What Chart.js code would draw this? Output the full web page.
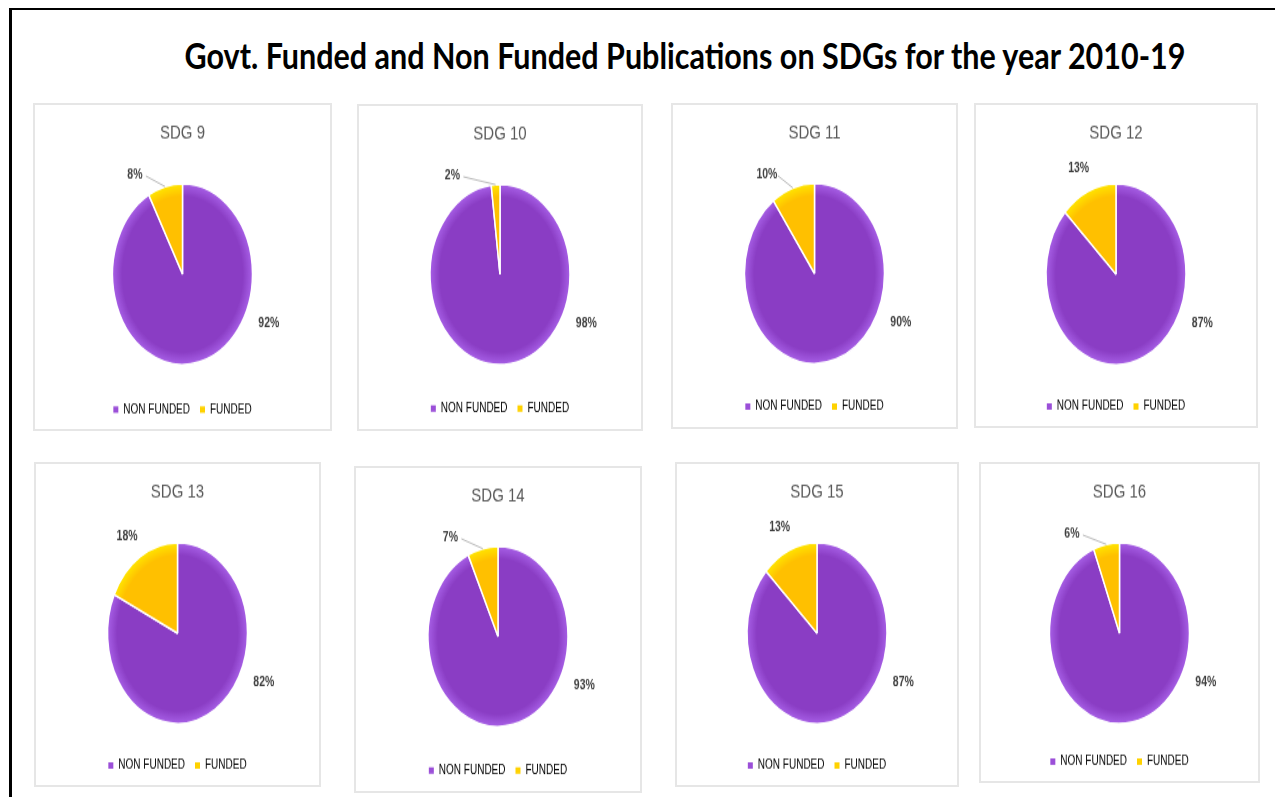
<!DOCTYPE html>
<html lang="en">
<head>
<meta charset="utf-8">
<title>Govt. Funded and Non Funded Publications on SDGs</title>
<script src="https://cdn.jsdelivr.net/npm/chart.js"></script>
<style>
    html, body { margin: 0; padding: 0; background: #fff; }
    #page { position: relative; width: 1275px; height: 797px; overflow: hidden; }
    .frame { position: absolute; left: 9px; top: 8px; width: 1300px; height: 820px; border-top: 2px solid #000; border-left: 3px solid #000; }
    .main-title { position: absolute; left: 0; width: 1370px; top: 37px; text-align: center; font: 700 30.5px/30.5px Lato, sans-serif; color: #000; white-space: nowrap; transform: scaleY(1.19); transform-origin: top center; }
    .panel { position: absolute; box-sizing: border-box; border: 2px solid #e6e6e6; background: #fff; overflow: hidden; }
    .stretch { position: absolute; left: 0; top: 0; width: 100%; transform-origin: top left; }
</style>
</head>
<body>
<div id="page">
    <div class="frame"></div>
    <div class="main-title">Govt. Funded and Non Funded Publications on SDGs for the year 2010-19</div>
</div>

<script>
    // data (percent of publications)
    const sdgNames = ['SDG 9', 'SDG 10', 'SDG 11', 'SDG 12', 'SDG 13', 'SDG 14', 'SDG 15', 'SDG 16'];
    const categories = ['NON FUNDED', 'FUNDED'];
    const nonFunded = [92, 98, 90, 87, 82, 93, 87, 94];
    const funded = [8, 2, 10, 13, 18, 7, 13, 6];

    // panel boxes on the page: left, top, width, height
    const panels = [
        [33, 103, 299, 328], [357, 104, 286, 327], [671, 103, 287, 326], [974, 103, 284, 325],
        [34, 462, 287, 325], [354, 466, 288, 327], [675, 462, 284, 325], [979, 462, 281, 321]
    ];

    const SY = 1.286;    // source picture is stretched vertically
    const R = 70;        // pie radius before the stretch
    const PIE_CY = 131;  // pie centre from panel top, before the stretch
    const FONT = '"Liberation Sans", Arial, sans-serif';

    const sliceBase = ['#8a3dc4', '#ffc000'];
    const sliceRim = ['#a75fe6', '#ffe600'];

    // soft lighter rim like the excel bevel
    function sliceFill(c) {
        const i = c.dataIndex;
        const area = c.chart.chartArea;
        if (!area) return sliceBase[i];
        const cx = (area.left + area.right) / 2, cy = (area.top + area.bottom) / 2;
        const g = c.chart.ctx.createRadialGradient(cx, cy, 0, cx, cy, R);
        g.addColorStop(0, sliceBase[i]);
        g.addColorStop(0.86, sliceBase[i]);
        g.addColorStop(1, sliceRim[i]);
        return g;
    }

    // percentage labels, outside end
    const pctLabels = {
        id: 'pctLabels',
        afterDatasetsDraw(chart) {
            const ctx = chart.ctx;
            const meta = chart.getDatasetMeta(0);
            const data = chart.data.datasets[0].data;
            const total = data.reduce((a, b) => a + b, 0);
            ctx.save();
            ctx.font = 'bold 10.5px ' + FONT;
            ctx.textAlign = 'center';
            ctx.textBaseline = 'middle';
            meta.data.forEach((arc, i) => {
                const pct = Math.round(data[i] / total * 100);
                const p = arc.getProps(['x', 'y', 'outerRadius', 'startAngle', 'endAngle'], true);
                const mid = (p.startAngle + p.endAngle) / 2;
                const r = p.outerRadius;
                let lx, ly;
                if (pct >= 50) {
                    const a = 22 * Math.PI / 180;
                    lx = p.x + Math.cos(a) * r * 1.33;
                    ly = p.y + Math.sin(a) * r * 1.45;
                } else if (pct <= 10) {
                    lx = p.x - r * 0.68;
                    ly = p.y - r * 1.1;
                    ctx.strokeStyle = '#a6a6a6';
                    ctx.lineWidth = 0.8;
                    ctx.beginPath();
                    ctx.moveTo(lx + 11, ly + 1);
                    ctx.lineTo(p.x + Math.cos(mid) * r, p.y + Math.sin(mid) * r);
                    ctx.stroke();
                } else {
                    lx = p.x + Math.cos(mid) * (r * 1.2 + 10);
                    ly = p.y + Math.sin(mid) * (r * 1.2 + 5);
                }
                ctx.fillStyle = '#404040';
                ctx.fillText(pct + '%', lx, ly);
            });
            ctx.restore();
        }
    };

    const page = document.getElementById('page');

    sdgNames.forEach((name, i) => {
        const [left, top, w, h] = panels[i];
        const panel = document.createElement('div');
        panel.className = 'panel';
        panel.style.cssText = `left:${left}px;top:${top}px;width:${w}px;height:${h}px;`;
        const hUn = (h - 4) / SY;
        const box = document.createElement('div');
        box.className = 'stretch';
        box.style.height = hUn + 'px';
        box.style.transform = `scaleY(${SY})`;
        const canvas = document.createElement('canvas');
        box.appendChild(canvas);
        panel.appendChild(box);
        page.appendChild(panel);

        // title block + chart area centre the pie at PIE_CY
        const titleBottom = 2 * PIE_CY - hUn;

        new Chart(canvas, {
            type: 'pie',
            data: {
                labels: categories,
                datasets: [{
                    data: [nonFunded[i], funded[i]],
                    backgroundColor: sliceFill,
                    borderColor: '#ffffff',
                    borderWidth: 1.5,
                    radius: R
                }]
            },
            options: {
                responsive: true,
                maintainAspectRatio: false,
                animation: false,
                layout: { padding: { bottom: 1 } },
                plugins: {
                    title: {
                        display: true,
                        text: name,
                        color: '#595959',
                        font: { family: FONT, size: 15, weight: 'normal' },
                        padding: { top: 13, bottom: titleBottom }
                    },
                    legend: {
                        position: 'bottom',
                        labels: {
                            color: '#404040',
                            font: { family: FONT, size: 10 },
                            boxWidth: 5,
                            boxHeight: 5,
                            padding: 10,
                            generateLabels(chart) {
                                return categories.map((t, k) => ({
                                    text: t, fillStyle: ['#9b4fd8', '#ffd200'][k],
                                    strokeStyle: ['#9b4fd8', '#ffd200'][k], lineWidth: 0, index: k
                                }));
                            }
                        }
                    },
                    tooltip: { enabled: false }
                }
            },
            plugins: [pctLabels]
        });
    });
</script>
</body>
</html>
